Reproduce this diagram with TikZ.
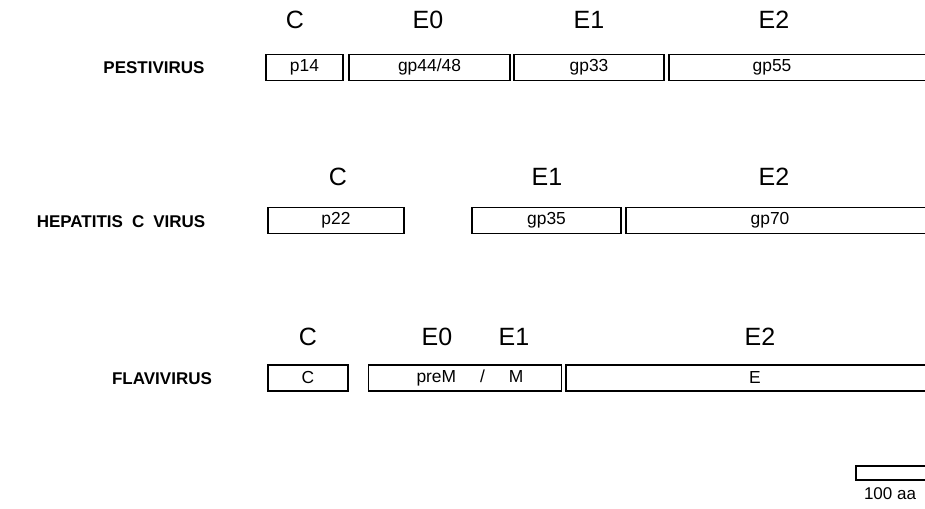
\documentclass[tikz,border=0pt]{standalone}
\usepackage{fontspec}
\setmainfont{Liberation Sans}
\usetikzlibrary{positioning}

\tikzset{
  seg/.style={rectangle, draw=black, thick, minimum height=13pt, inner sep=0pt},
  seglbl/.style={font=\fontsize{8.7}{10}\selectfont},
  prot/.style={font=\fontsize{12.5}{14}\selectfont},
  virus/.style={font=\bfseries\fontsize{8.5}{10}\selectfont}
}

\begin{document}
\begin{tikzpicture}[x=0.5pt, y=-0.5pt]
\useasboundingbox (0,0) rectangle (925,508);

% pestivirus
\node [virus] (pesti) at (154,68) {PESTIVIRUS};
\node [prot] (pC) at (295,20) {C};
\node [prot] (pE0) at (428,20) {E0};
\node [prot] (pE1) at (589,20) {E1};
\node [prot] (pE2) at (774,20) {E2};
\node [seg, seglbl, minimum width=38.5pt] (p14) at (304.5,67.5) {p14};
\node [seg, seglbl, minimum width=80.5pt] (gp4448) at (429.5,67.5) {gp44/48};
\node [seg, seglbl, minimum width=75pt] (gp33) at (589,67.5) {gp33};
\node [seg, minimum width=140pt] (gp55) at (809,67.5) {};
\node [seglbl] (gp55t) at (772,67.5) {gp55};

% hepatitis C
\node [virus] (hcv) at (121,222) {HEPATITIS\hspace{4.5pt}C\hspace{4.5pt}VIRUS};
\node [prot] (hC) at (338,177) {C};
\node [prot] (hE1) at (547,177) {E1};
\node [prot] (hE2) at (774,177) {E2};
\node [seg, seglbl, minimum width=68pt] (p22) at (336,220.5) {p22};
\node [seg, seglbl, minimum width=74.5pt] (gp35) at (546.5,220.5) {gp35};
\node [seg, minimum width=157pt] (gp70) at (783,220.5) {};
\node [seglbl] (gp70t) at (770,220.5) {gp70};

% flavivirus
\node [virus] (flavi) at (162,379) {FLAVIVIRUS};
\node [prot] (fC) at (308,337) {C};
\node [prot] (fE0) at (437,337) {E0};
\node [prot] (fE1) at (514,337) {E1};
\node [prot] (fE2) at (760,337) {E2};
\node [seg, seglbl, minimum width=40pt] (fCbox) at (308,378) {C};
\node [seg, seglbl, minimum width=96.5pt] (prem) at (465,378) {};
\node [seglbl] (premt) at (470,378) {preM\hspace{12pt}/\hspace{12pt}M};
\node [seg, minimum width=187pt] (fEbox) at (753,378) {};
\node [seglbl] (fEt) at (755,378) {E};

% scale bar
\node [seg, minimum width=42pt, minimum height=7pt] (bar) at (898,473) {};
\node [seglbl, font=\fontsize{8.5}{10}\selectfont] (bart) at (890,494) {100 aa};
\end{tikzpicture}
\end{document}
